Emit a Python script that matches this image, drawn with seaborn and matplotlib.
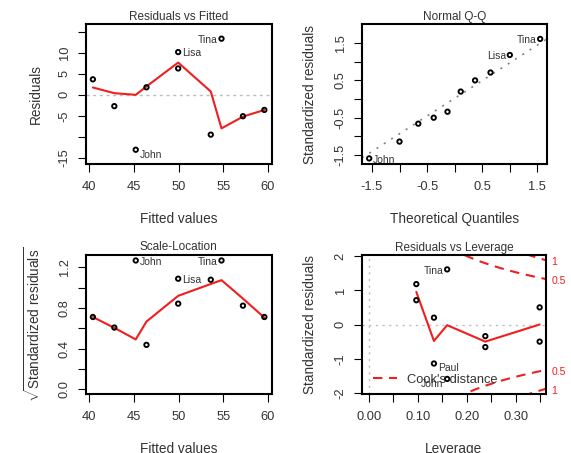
import numpy as np
import pandas as pd
import matplotlib
matplotlib.use("Agg")
import matplotlib.pyplot as plt
import matplotlib.transforms as mtransforms
from matplotlib.lines import Line2D
import seaborn as sns

# ---- regression diagnostics (observations ordered by fitted value) ----
fitted = [40.4, 42.8, 45.2, 46.4, 49.95, 49.95, 53.6, 54.8, 57.2, 59.6]
residuals = [3.7, -2.7, -13.1, 1.8, 10.2, 6.3, -9.5, 13.4, -5.1, -3.6]
std_residuals = [0.50, -0.34, -1.59, 0.20, 1.18, 0.71, -1.14, 1.61, -0.66, -0.50]
sqrt_abs_std = [0.711, 0.607, 1.269, 0.436, 1.089, 0.843, 1.079, 1.269, 0.823, 0.711]
theoretical_q = [0.37, -0.13, -1.55, 0.11, 1.00, 0.65, -1.00, 1.55, -0.66, -0.38]
leverage = [0.349, 0.238, 0.160, 0.133, 0.097, 0.097, 0.133, 0.160, 0.238, 0.349]
point_ids = ["", "", "John", "", "Lisa", "", "Paul", "Tina", "", ""]

# ids shown on each panel
ids_resid = ["John", "Lisa", "Tina"]
ids_cook = ["Tina", "Paul", "John"]

# lowess smooths
smooth_fit_x = [40.4, 42.8, 45.2, 46.4, 49.95, 53.6, 54.8, 57.2, 59.6]
smooth_resid = [1.75, 0.4, 0.0, 2.0, 7.7, 0.8, -8.0, -5.2, -3.6]
smooth_scale = [0.711, 0.604, 0.49, 0.666, 0.92, 1.037, 1.075, 0.893, 0.705]
smooth_lev_x = [0.097, 0.133, 0.160, 0.238, 0.349]
smooth_lev_y = [0.95, -0.48, -0.02, -0.50, 0.0]

# normal Q-Q reference line
qq_slope, qq_intercept = 0.95, 0.02

# Cook's distance contours
cook_levels = [0.5, 1.0]
cook_level_labels = ["0.5", "1"]
n_coef = 2

# axis ticks
fit_ticks = [40, 45, 50, 55, 60]
fit_ticklabels = ["40", "45", "50", "55", "60"]
res_ticks = [-15, -10, -5, 0, 5, 10, 15]
res_ticklabels = ["-15", "", "-5", "0", "5", "10", ""]
qq_ticks = [-1.5, -1.0, -0.5, 0.0, 0.5, 1.0, 1.5]
qq_ticklabels = ["-1.5", "", "-0.5", "", "0.5", "", "1.5"]
sl_ticks = [0.0, 0.2, 0.4, 0.6, 0.8, 1.0, 1.2]
sl_ticklabels = ["0.0", "", "0.4", "", "0.8", "", "1.2"]
lev_ticks = [0.0, 0.05, 0.10, 0.15, 0.20, 0.25, 0.30, 0.35]
lev_ticklabels = ["0.00", "", "0.10", "", "0.20", "", "0.30", ""]
lr_ticks = [-2, -1, 0, 1, 2]
lr_ticklabels = ["-2", "-1", "0", "1", "2"]

df = pd.DataFrame({
    "fitted": fitted, "resid": residuals, "std": std_residuals,
    "sqrtstd": sqrt_abs_std, "theo": theoretical_q, "lev": leverage,
    "id": point_ids,
})

# ---- styling ----
W, H = 571, 453
TEXT = "#333333"
RED = "#F01E1E"
sns.set_theme(style="ticks")
plt.rcParams.update({
    "font.family": ["Liberation Sans", "DejaVu Sans"],
    "mathtext.fontset": "custom",
    "mathtext.rm": "Liberation Sans",
    "mathtext.it": "Liberation Sans:italic",
    "mathtext.bf": "Liberation Sans:bold",
    "axes.unicode_minus": False,
    "text.color": TEXT,
    "axes.labelcolor": TEXT,
    "xtick.labelcolor": TEXT,
    "ytick.labelcolor": TEXT,
    "xtick.color": "black",
    "ytick.color": "black",
    "axes.edgecolor": "black",
    "axes.linewidth": 1.5,
    "axes.facecolor": "white",
    "figure.facecolor": "white",
})

fig = plt.figure(figsize=(W / 100, H / 100), dpi=100)


def make_axes(left, right, top, bottom):
    ax = fig.add_axes([left / W, 1 - bottom / H, (right - left) / W, (bottom - top) / H])
    ax._box = (left, right, top, bottom)
    return ax


def style(ax, title, xlabel, ylabel, xlim, ylim, xt, xtl, yt, ytl, xlab_y, ylab_x):
    left, right, top, bottom = ax._box
    ax.set_xlim(*xlim)
    ax.set_ylim(*ylim)
    ax.set_xticks(xt, xtl)
    ax.set_yticks(yt, ytl)
    for s in ax.spines.values():
        s.set_visible(True)
        s.set_linewidth(1.5)
        s.set_color("black")
    ax.tick_params(axis="both", direction="out", length=6, width=0.8,
                   labelsize=9.3)
    ax.tick_params(axis="x", pad=6.0)
    ax.tick_params(axis="y", pad=5.0, labelrotation=90)
    for lab in ax.get_yticklabels():
        lab.set_va("center")
    ax.set_title(title, fontsize=8.5, pad=3.2, color=TEXT)
    ax.set_xlabel(xlabel, fontsize=9.8)
    ax.set_ylabel(ylabel, fontsize=9.8)
    ax.xaxis.set_label_coords(0.5, (bottom - xlab_y) / (bottom - top))
    ax.xaxis.label.set_va("center")
    ax.yaxis.set_label_coords((ylab_x - left) / (right - left), 0.5)
    ax.yaxis.label.set_va("center")
    ax.grid(False)


def points(ax, x, y):
    sns.scatterplot(data=df, x=x, y=y, ax=ax, marker="o", s=10,
                    facecolor="none", edgecolor="black", linewidth=1.35,
                    legend=False, zorder=4)


def smooth(ax, xs, ys):
    sns.lineplot(x=xs, y=ys, ax=ax, color=RED, linewidth=1.5, sort=False,
                 estimator=None, legend=False, zorder=3)


def label_ids(ax, x, y, shown, shift_negative):
    sub = df[df["id"].isin(shown)]
    xs, ys = sub[x].to_numpy(), sub[y].to_numpy()
    mid = (xs.min() + xs.max()) / 2
    for xv, yv, name in zip(xs, ys, sub["id"]):
        right_of = xv <= mid + 1e-9
        dy = -1.0 - (2.5 if (shift_negative and yv < 0) else 0.0)
        ax.annotate(name, (xv, yv), xytext=(2.8 if right_of else -2.8, dy),
                    textcoords="offset points", ha="left" if right_of else "right",
                    va="center", fontsize=7.5, color=TEXT, zorder=5,
                    annotation_clip=False)


# ---- Residuals vs Fitted ----
ax1 = make_axes(86, 271.5, 24, 164)
ax1.axhline(0, color="#BEBEBE", linewidth=1.0, linestyle=(0, (2.2, 2.6)), zorder=1)
smooth(ax1, smooth_fit_x, smooth_resid)
points(ax1, "fitted", "resid")
label_ids(ax1, "fitted", "resid", ids_resid, True)
style(ax1, "Residuals vs Fitted", "Fitted values", "Residuals",
      (39.63, 60.4), (-16.5, 16.9), fit_ticks, fit_ticklabels,
      res_ticks, res_ticklabels, 219, 35.6)

# ---- Normal Q-Q ----
ax2 = make_axes(362, 546.5, 24, 164)
ax2.axline((0, qq_intercept), slope=qq_slope, color="#808080", linewidth=1.2,
           linestyle=(0, (1.2, 4.0)), zorder=1)
points(ax2, "theo", "std")
label_ids(ax2, "theo", "std", ids_resid, False)
style(ax2, "Normal Q-Q", "Theoretical Quantiles", "Standardized residuals",
      (-1.68, 1.665), (-1.74, 2.01), qq_ticks, qq_ticklabels,
      qq_ticks, qq_ticklabels, 219, 309.7)

# ---- Scale-Location ----
ax3 = make_axes(86, 271.5, 254.5, 394)
smooth(ax3, smooth_fit_x, smooth_scale)
points(ax3, "fitted", "sqrtstd")
label_ids(ax3, "fitted", "sqrtstd", ids_resid, False)
style(ax3, "Scale-Location", "Fitted values",
      r"$\sqrt{\mathrm{Standardized\ residuals}}$",
      (39.63, 60.4), (-0.049, 1.328), fit_ticks, fit_ticklabels,
      sl_ticks, sl_ticklabels, 449, 33.0)

# ---- Residuals vs Leverage ----
ax4 = make_axes(362, 546, 255, 394)
lev_xlim = (-0.014, 0.362)
ax4.axhline(0, color="#BEBEBE", linewidth=1.0, linestyle=(0, (1.6, 3.2)), zorder=1)
ax4.axvline(0, color="#BEBEBE", linewidth=1.0, linestyle=(0, (1.6, 3.2)), zorder=1)
hh = np.linspace(0.001, lev_xlim[1], 101)
for lvl in cook_levels:
    bound = np.sqrt(lvl * n_coef * (1 - hh) / hh)
    for sgn in (1, -1):
        sns.lineplot(x=hh, y=sgn * bound, ax=ax4, color=RED, linewidth=1.5,
                     linestyle=(0, (4.5, 3.2)), sort=False, estimator=None,
                     legend=False, zorder=2)
smooth(ax4, smooth_lev_x, smooth_lev_y)
points(ax4, "lev", "std")
label_ids(ax4, "lev", "std", ids_cook, True)
style(ax4, "Residuals vs Leverage", "Leverage", "Standardized residuals",
      lev_xlim, (-2.03, 2.03), lev_ticks, lev_ticklabels,
      lr_ticks, lr_ticklabels, 449, 310.4)

# contour labels in the right margin
trans = mtransforms.blended_transform_factory(ax4.transAxes, ax4.transData)
h_edge = lev_xlim[1]
for lvl, txt in zip(cook_levels, cook_level_labels):
    yv = np.sqrt(lvl * n_coef * (1 - h_edge) / h_edge)
    for sgn in (1, -1):
        ax4.text(1.03, sgn * yv - 0.06, txt, transform=trans, ha="left",
                 va="center", fontsize=7.5, color=RED, clip_on=False)

handle = Line2D([], [], color=RED, linewidth=1.5, linestyle=(0, (4.5, 3.2)))
ax4.legend([handle], ["Cook's distance"], loc="center left",
           bbox_to_anchor=((373 - 362) / 184, (394 - 379.5) / 139),
           frameon=False, fontsize=9.3, borderpad=0, borderaxespad=0,
           handlelength=1.85, handletextpad=0.75, labelcolor=TEXT)

fig.savefig("out.png", dpi=100)
